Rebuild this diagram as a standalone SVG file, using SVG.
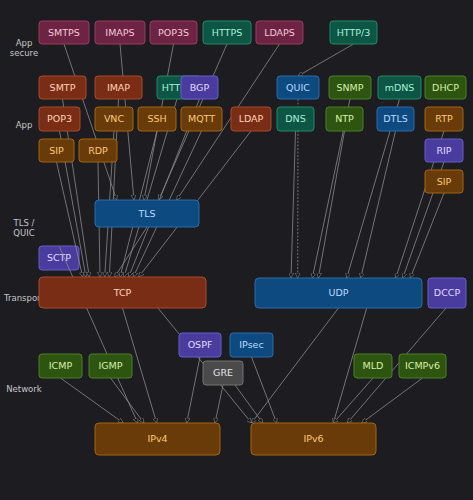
<svg xmlns="http://www.w3.org/2000/svg" width="473" height="500" viewBox="0 0 473 500">
<style>
.bg{fill:#1c1c21}
.lbl{font-family:"DejaVu Sans",sans-serif;font-size:8.5px;fill:#c6c6c6;text-anchor:middle}
.n rect{stroke-width:1}
.n text{font-family:"DejaVu Sans",sans-serif;font-size:9.5px;text-anchor:middle}
.pk rect{fill:#6d2343;stroke:#9a3b62}.pk text{fill:#f4c8d8}
.tl rect{fill:#0d5545;stroke:#1f8a6a}.tl text{fill:#a8f0d2}
.rs rect{fill:#792d14;stroke:#a84b2a}.rs text{fill:#ffd4bc}
.or rect{fill:#693b08;stroke:#a3650f}.or text{fill:#ffc878}
.pu rect{fill:#4a3b9e;stroke:#6b5cc8}.pu text{fill:#e2dcff}
.bl rect{fill:#0d4a80;stroke:#2d6ba8}.bl text{fill:#bcdcff}
.ol rect{fill:#2d5510;stroke:#4d8026}.ol text{fill:#d8f0a8}
.gy rect{fill:#4a4a4a;stroke:#737373}.gy text{fill:#e6e6e6}
#edges line{stroke:#8a8a8a;stroke-width:0.8;marker-end:url(#ah)}
</style>
<defs>
<marker id="ah" markerUnits="userSpaceOnUse" markerWidth="5" markerHeight="5" refX="5" refY="2.5" orient="auto">
<path d="M0,0 L5,2.5 L0,5 z" fill="#141417" stroke="#9a9a9a" stroke-width="0.5"/>
</marker>
</defs>
<rect class="bg" x="0" y="0" width="473" height="500"/>
<g id="labels">
<text class="lbl" x="24" y="46">App</text>
<text class="lbl" x="24" y="55.5">secure</text>
<text class="lbl" x="24" y="128">App</text>
<text class="lbl" x="24" y="225.5">TLS /</text>
<text class="lbl" x="24" y="236">QUIC</text>
<text class="lbl" x="24" y="300.5">Transport</text>
<text class="lbl" x="24" y="391.5">Network</text>
</g>
<g id="n-sctp" class="n pu"><rect x="39" y="246" width="40" height="24" rx="3"/><text x="59" y="261.4">SCTP</text></g>
<g id="edges">
<line x1="64" y1="44" x2="116.7" y2="200"/>
<line x1="120" y1="44" x2="134" y2="200"/>
<line x1="173.5" y1="44" x2="144" y2="200"/>
<line x1="227" y1="44" x2="158.7" y2="200"/>
<line x1="279.5" y1="44" x2="176.7" y2="200"/>
<line x1="353.5" y1="44" x2="298" y2="76"/>
<line x1="56.5" y1="162" x2="82.7" y2="277"/>
<line x1="59.5" y1="131" x2="86" y2="277"/>
<line x1="62.5" y1="99" x2="89.3" y2="277"/>
<line x1="98" y1="162" x2="100" y2="277"/>
<line x1="114" y1="131" x2="104.7" y2="277"/>
<line x1="118.5" y1="99" x2="109.3" y2="277"/>
<line x1="147" y1="227" x2="114.7" y2="277"/>
<line x1="157" y1="131" x2="120" y2="277"/>
<line x1="177" y1="99" x2="124" y2="277"/>
<line x1="199.5" y1="99" x2="128.7" y2="277"/>
<line x1="201.5" y1="131" x2="133.3" y2="277"/>
<line x1="251" y1="131" x2="138.7" y2="277"/>
<line x1="295.5" y1="131" x2="291" y2="278"/>
<line x1="298" y1="99" x2="297.7" y2="278" stroke-dasharray="2 1.5"/>
<line x1="350" y1="99" x2="312.3" y2="278"/>
<line x1="344.5" y1="131" x2="318.3" y2="278"/>
<line x1="399.5" y1="99" x2="346.7" y2="278"/>
<line x1="395.5" y1="131" x2="360.7" y2="278"/>
<line x1="444" y1="131" x2="395.7" y2="278"/>
<line x1="444" y1="162" x2="402.7" y2="278"/>
<line x1="444" y1="193" x2="410.3" y2="278"/>
<line x1="59.5" y1="247" x2="137.7" y2="423"/>
<line x1="122.5" y1="308" x2="156.7" y2="423"/>
<line x1="158" y1="308" x2="251.5" y2="423"/>
<line x1="338.5" y1="308" x2="251.5" y2="423"/>
<line x1="366.7" y1="308" x2="333.3" y2="423"/>
<line x1="446" y1="308" x2="347.3" y2="423"/>
<line x1="60.5" y1="378" x2="123.3" y2="423"/>
<line x1="110.5" y1="378" x2="144" y2="423"/>
<line x1="200" y1="357" x2="186.7" y2="423"/>
<line x1="223" y1="385" x2="215" y2="423"/>
<line x1="235" y1="385" x2="262.7" y2="423"/>
<line x1="251.5" y1="357" x2="276.7" y2="423"/>
<line x1="373" y1="378" x2="333.3" y2="423"/>
<line x1="422.5" y1="378" x2="361.7" y2="423"/>
</g>
<g id="n-smtps" class="n pk"><rect x="39" y="21" width="50" height="23" rx="3"/><text x="64" y="35.9">SMTPS</text></g>
<g id="n-imaps" class="n pk"><rect x="95" y="21" width="50" height="23" rx="3"/><text x="120" y="35.9">IMAPS</text></g>
<g id="n-pop3s" class="n pk"><rect x="150" y="21" width="47" height="23" rx="3"/><text x="173.5" y="35.9">POP3S</text></g>
<g id="n-https" class="n tl"><rect x="203" y="21" width="48" height="23" rx="3"/><text x="227" y="35.9">HTTPS</text></g>
<g id="n-ldaps" class="n pk"><rect x="256" y="21" width="47" height="23" rx="3"/><text x="279.5" y="35.9">LDAPS</text></g>
<g id="n-http3" class="n tl"><rect x="330" y="21" width="47" height="23" rx="3"/><text x="353.5" y="35.9">HTTP/3</text></g>
<g id="n-smtp" class="n rs"><rect x="39" y="76" width="47" height="23" rx="3"/><text x="62.5" y="90.9">SMTP</text></g>
<g id="n-imap" class="n rs"><rect x="95" y="76" width="47" height="23" rx="3"/><text x="118.5" y="90.9">IMAP</text></g>
<g id="n-http" class="n tl"><rect x="157" y="76" width="44" height="23" rx="3"/><text x="174" y="90.9">HTTP</text></g>
<g id="n-bgp" class="n pu"><rect x="181" y="76" width="37" height="23" rx="3"/><text x="199.5" y="90.9">BGP</text></g>
<g id="n-quic" class="n bl"><rect x="277" y="76" width="42" height="23" rx="3"/><text x="298" y="90.9">QUIC</text></g>
<g id="n-snmp" class="n ol"><rect x="329" y="76" width="42" height="23" rx="3"/><text x="350" y="90.9">SNMP</text></g>
<g id="n-mdns" class="n tl"><rect x="378" y="76" width="43" height="23" rx="3"/><text x="399.5" y="90.9">mDNS</text></g>
<g id="n-dhcp" class="n ol"><rect x="425" y="76" width="41" height="23" rx="3"/><text x="445.5" y="90.9">DHCP</text></g>
<g id="n-pop3" class="n rs"><rect x="39" y="107" width="41" height="24" rx="3"/><text x="59.5" y="122.4">POP3</text></g>
<g id="n-vnc" class="n or"><rect x="95" y="107" width="38" height="24" rx="3"/><text x="114" y="122.4">VNC</text></g>
<g id="n-ssh" class="n or"><rect x="138" y="107" width="38" height="24" rx="3"/><text x="157" y="122.4">SSH</text></g>
<g id="n-mqtt" class="n or"><rect x="181" y="107" width="41" height="24" rx="3"/><text x="201.5" y="122.4">MQTT</text></g>
<g id="n-ldap" class="n rs"><rect x="231" y="107" width="40" height="24" rx="3"/><text x="251" y="122.4">LDAP</text></g>
<g id="n-dns" class="n tl"><rect x="277" y="107" width="37" height="24" rx="3"/><text x="295.5" y="122.4">DNS</text></g>
<g id="n-ntp" class="n ol"><rect x="326" y="107" width="37" height="24" rx="3"/><text x="344.5" y="122.4">NTP</text></g>
<g id="n-dtls" class="n bl"><rect x="377" y="107" width="37" height="24" rx="3"/><text x="395.5" y="122.4">DTLS</text></g>
<g id="n-rtp" class="n or"><rect x="425" y="107" width="38" height="24" rx="3"/><text x="444" y="122.4">RTP</text></g>
<g id="n-sip" class="n or"><rect x="39" y="139" width="35" height="23" rx="3"/><text x="56.5" y="153.9">SIP</text></g>
<g id="n-rdp" class="n or"><rect x="79" y="139" width="38" height="23" rx="3"/><text x="98" y="153.9">RDP</text></g>
<g id="n-rip" class="n pu"><rect x="425" y="139" width="38" height="23" rx="3"/><text x="444" y="153.9">RIP</text></g>
<g id="n-sip2" class="n or"><rect x="425" y="170" width="38" height="23" rx="3"/><text x="444" y="184.9">SIP</text></g>
<g id="n-tls" class="n bl"><rect x="95" y="200" width="104" height="27" rx="4"/><text x="147" y="216.9">TLS</text></g>
<g id="n-tcp" class="n rs"><rect x="39" y="277" width="167" height="31" rx="4"/><text x="122.5" y="295.9">TCP</text></g>
<g id="n-udp" class="n bl"><rect x="255" y="278" width="167" height="30" rx="4"/><text x="338.5" y="296.4">UDP</text></g>
<g id="n-dccp" class="n pu"><rect x="428" y="278" width="38" height="30" rx="3"/><text x="447" y="296.4">DCCP</text></g>
<g id="n-ospf" class="n pu"><rect x="179" y="333" width="42" height="24" rx="3"/><text x="200" y="348.4">OSPF</text></g>
<g id="n-ipsec" class="n bl"><rect x="230" y="333" width="43" height="24" rx="3"/><text x="251.5" y="348.4">IPsec</text></g>
<g id="n-gre" class="n gy"><rect x="203" y="361" width="40" height="24" rx="3"/><text x="223" y="376.4">GRE</text></g>
<g id="n-icmp" class="n ol"><rect x="39" y="354" width="43" height="24" rx="3"/><text x="60.5" y="369.4">ICMP</text></g>
<g id="n-igmp" class="n ol"><rect x="89" y="354" width="43" height="24" rx="3"/><text x="110.5" y="369.4">IGMP</text></g>
<g id="n-mld" class="n ol"><rect x="354" y="354" width="38" height="24" rx="3"/><text x="373" y="369.4">MLD</text></g>
<g id="n-icmpv6" class="n ol"><rect x="399" y="354" width="47" height="24" rx="3"/><text x="422.5" y="369.4">ICMPv6</text></g>
<g id="n-ipv4" class="n or"><rect x="95" y="423" width="125" height="32" rx="4"/><text x="157.5" y="442.4">IPv4</text></g>
<g id="n-ipv6" class="n or"><rect x="251" y="423" width="125" height="32" rx="4"/><text x="313.5" y="442.4">IPv6</text></g>
</svg>
